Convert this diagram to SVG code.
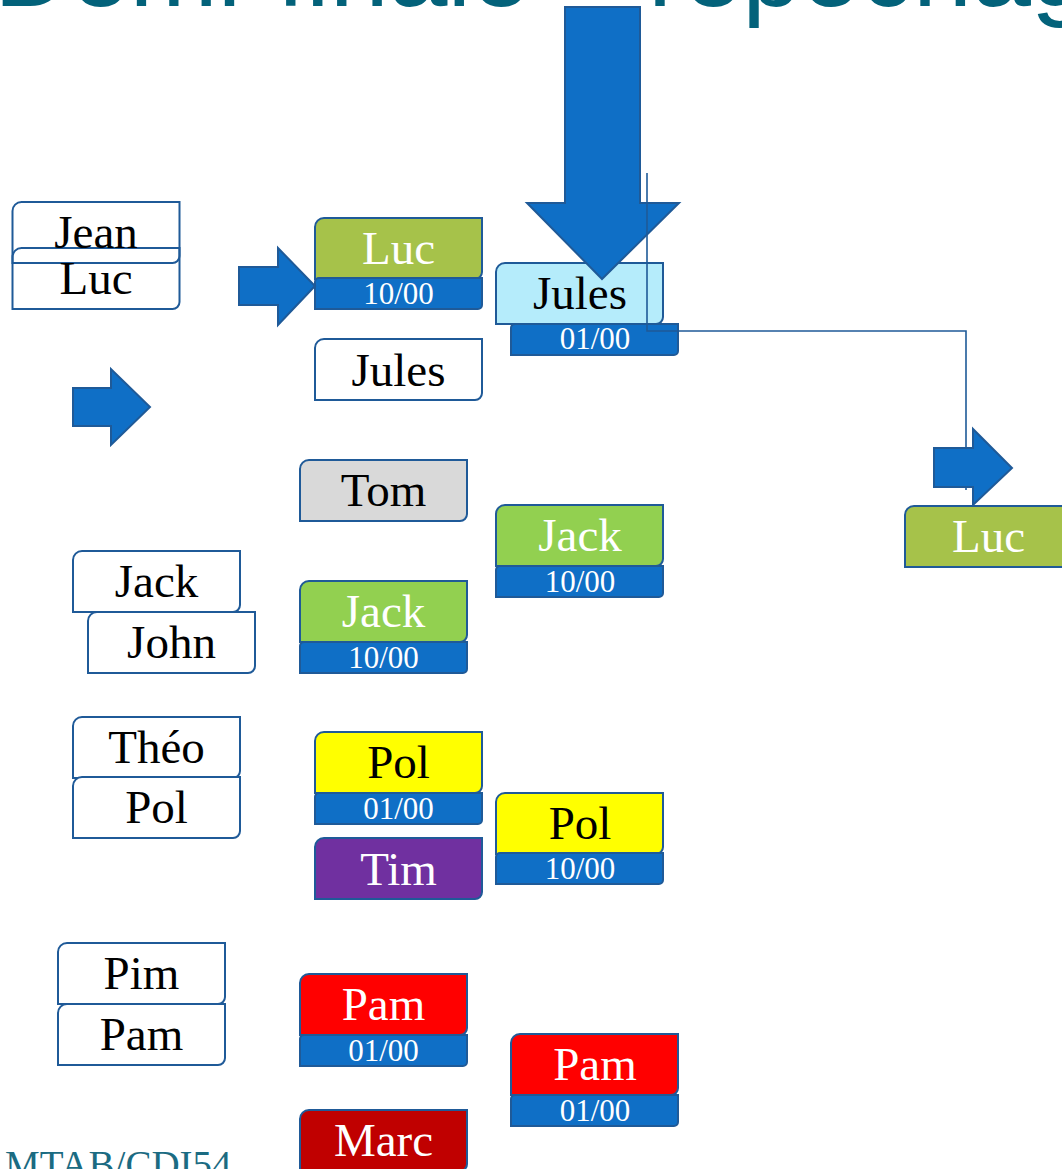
<svg xmlns="http://www.w3.org/2000/svg" xmlns:xlink="http://www.w3.org/1999/xlink" width="1062" height="1169" viewBox="0 0 1062 1169">
<style>
.box{stroke:#1F5A98;stroke-width:2;}
.w{fill:#FFFFFF;}
.none{fill:none;}
.olive{fill:#A6C24A;}
.lblue{fill:#B5ECFB;}
.grey{fill:#D9D9D9;}
.green{fill:#92D050;}
.yellow{fill:#FFFF00;}
.purple{fill:#7030A0;}
.red{fill:#FF0000;}
.dred{fill:#C00000;}
.bar{fill:#0F6FC6;stroke:#1F5A98;stroke-width:2;}
.name{font-family:"Liberation Serif","Times New Roman",serif;font-size:47px;text-anchor:middle;fill:#000;}
.wt{fill:#FFFFFF;}
.date{font-family:"Liberation Serif","Times New Roman",serif;font-size:31px;text-anchor:middle;fill:#FFFFFF;}
.arrow{fill:#0F6FC6;stroke:#1F5A98;stroke-width:2;stroke-linejoin:miter;}
.conn{fill:none;stroke:#1F5A98;stroke-width:1.6;}
.title{font-family:"Liberation Sans",Arial,sans-serif;font-size:106px;fill:#03627A;}
.foot{font-family:"Liberation Serif","Times New Roman",serif;font-size:39px;fill:#1B6B82;}
</style>
<defs>
<path id="box" d="M9,0 H167 V54 A7,7 0 0 1 160,61 H0 V9 A9,9 0 0 1 9,0 Z"/>
<path id="bar" d="M4,0 H167 V27 A4,4 0 0 1 163,31 H0 V4 A4,4 0 0 1 4,0 Z"/>
</defs>
<rect width="1062" height="1169" fill="#FFFFFF"/>
<text class="title" x="-6" y="6">Demi-finale – repêchage</text>

<g id="n-jean"><use xlink:href="#box" x="12.5" y="202" class="box none"/></g>
<g id="n-luc-w"><use xlink:href="#box" x="12.5" y="248" class="box none"/><text class="name" x="96" y="294">Luc</text></g>
<g id="n-jean-t"><text class="name" x="96" y="248">Jean</text></g>

<g id="n-luc-g"><use xlink:href="#box" x="315" y="218" class="box olive"/><text class="name wt" x="398.5" y="264">Luc</text><use xlink:href="#bar" x="315" y="278" class="bar"/><text class="date" x="398.5" y="304">10/00</text></g>
<g id="n-jules-w"><use xlink:href="#box" x="315" y="339" class="box w"/><text class="name" x="398.5" y="386">Jules</text></g>
<g id="n-jules-b"><use xlink:href="#box" x="496" y="263" class="box lblue"/><text class="name" x="580" y="309">Jules</text><use xlink:href="#bar" x="511" y="324" class="bar"/><text class="date" x="595" y="349">01/00</text></g>
<g id="n-tom"><use xlink:href="#box" x="300" y="460" class="box grey"/><text class="name" x="383.5" y="506">Tom</text></g>
<g id="n-jack-r"><use xlink:href="#box" x="496" y="505" class="box green"/><text class="name wt" x="580" y="551">Jack</text><use xlink:href="#bar" x="496" y="566" class="bar"/><text class="date" x="580" y="592">10/00</text></g>
<g id="n-jack-w"><use xlink:href="#box" x="73" y="551" class="box w"/><text class="name" x="156.5" y="597">Jack</text></g>
<g id="n-john"><use xlink:href="#box" x="88" y="612" class="box w"/><text class="name" x="171.5" y="658">John</text></g>
<g id="n-jack-m"><use xlink:href="#box" x="300" y="581" class="box green"/><text class="name wt" x="383.5" y="627">Jack</text><use xlink:href="#bar" x="300" y="642" class="bar"/><text class="date" x="383.5" y="668">10/00</text></g>
<g id="n-theo"><use xlink:href="#box" x="73" y="717" class="box w"/><text class="name" x="156.5" y="763">Théo</text></g>
<g id="n-pol-w"><use xlink:href="#box" x="73" y="777" class="box w"/><text class="name" x="156.5" y="823">Pol</text></g>
<g id="n-pol-y"><use xlink:href="#box" x="315" y="732" class="box yellow"/><text class="name" x="398.5" y="778">Pol</text><use xlink:href="#bar" x="315" y="793" class="bar"/><text class="date" x="398.5" y="819">01/00</text></g>
<g id="n-tim"><use xlink:href="#box" x="315" y="838" class="box purple"/><text class="name wt" x="398.5" y="885">Tim</text></g>
<g id="n-pol-yr"><use xlink:href="#box" x="496" y="793" class="box yellow"/><text class="name" x="580" y="839">Pol</text><use xlink:href="#bar" x="496" y="853" class="bar"/><text class="date" x="580" y="879">10/00</text></g>
<g id="n-pim"><use xlink:href="#box" x="58" y="943" class="box w"/><text class="name" x="141.5" y="989">Pim</text></g>
<g id="n-pam-w"><use xlink:href="#box" x="58" y="1004" class="box w"/><text class="name" x="141.5" y="1050">Pam</text></g>
<g id="n-pam-r"><use xlink:href="#box" x="300" y="974" class="box red"/><text class="name wt" x="383.5" y="1020">Pam</text><use xlink:href="#bar" x="300" y="1035" class="bar"/><text class="date" x="383.5" y="1061">01/00</text></g>
<g id="n-pam-rr"><use xlink:href="#box" x="511" y="1034" class="box red"/><text class="name wt" x="595" y="1080">Pam</text><use xlink:href="#bar" x="511" y="1095" class="bar"/><text class="date" x="595" y="1121">01/00</text></g>
<g id="n-marc"><use xlink:href="#box" x="300" y="1110" class="box dred"/><text class="name wt" x="383.5" y="1156">Marc</text></g>
<g id="n-luc-r"><use xlink:href="#box" x="905" y="506" class="box olive"/><text class="name wt" x="988.5" y="552">Luc</text></g>

<g id="arrows">
<polygon class="arrow" points="239,267 278,267 278,248 315,286 278,325 278,305 239,305"/>
<polygon class="arrow" points="73,388 111,388 111,369 150,407 111,445 111,426 73,426"/>
<polygon class="arrow" points="565,7 640,7 640,203 679,203 602,279 527,203 565,203"/>
</g>
<g id="connectors">
<path class="conn" d="M647,173 V331 H966 V490"/>
</g>
<g id="arrow-right">
<polygon class="arrow" points="934,448 973,448 973,429 1012,468 973,505 973,487 934,487"/>
</g>
<text class="foot" x="5" y="1178">MTAB/CDI54</text>
</svg>
